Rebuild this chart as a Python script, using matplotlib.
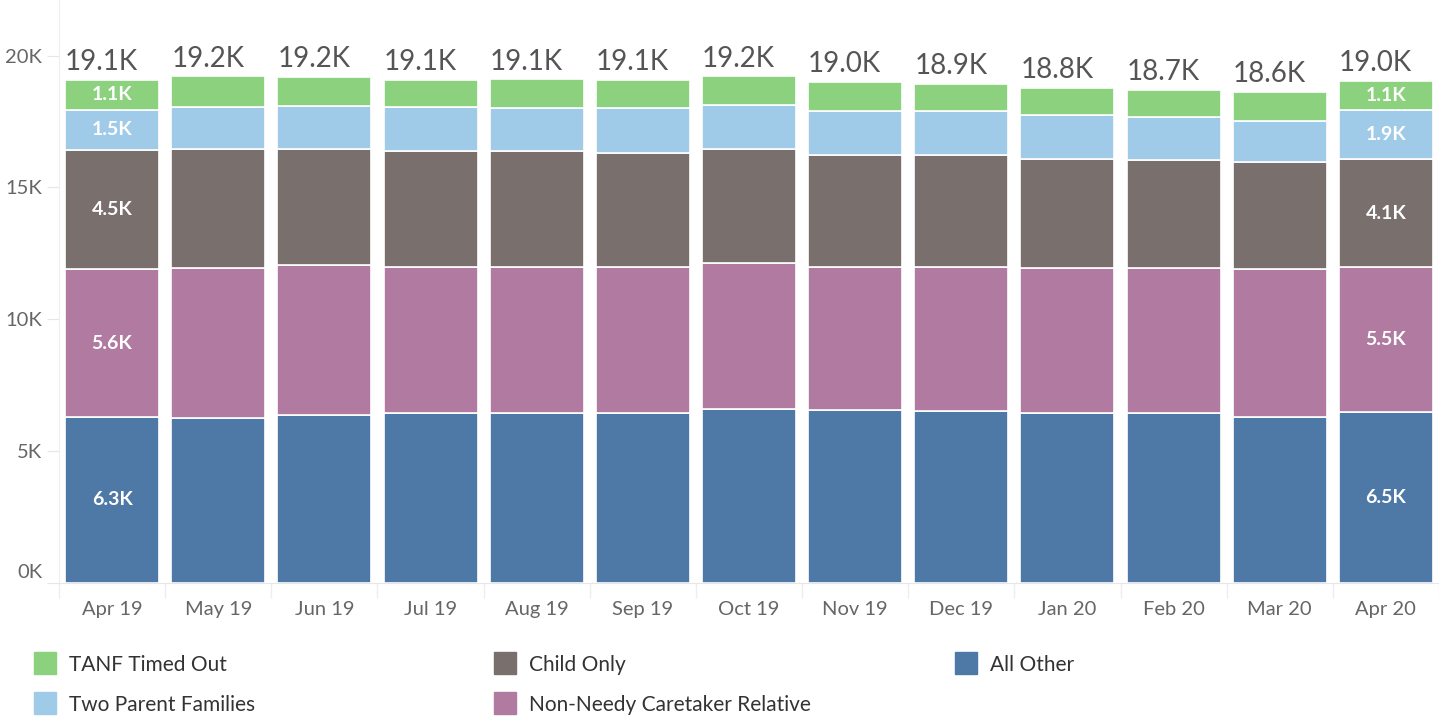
import matplotlib.pyplot as plt
from matplotlib.patches import Rectangle
from matplotlib import transforms
import numpy as np

plt.rcParams['font.family'] = ['Lato', 'DejaVu Sans']

"""
    Data (caseload counts by month)
"""
months = ["Apr 19", "May 19", "Jun 19", "Jul 19", "Aug 19", "Sep 19", "Oct 19",
          "Nov 19", "Dec 19", "Jan 20", "Feb 20", "Mar 20", "Apr 20"]

all_other = [6280, 6250, 6360, 6430, 6430, 6430, 6590, 6550, 6510, 6430, 6440, 6280, 6460]
non_needy = [5620, 5690, 5690, 5550, 5550, 5550, 5540, 5430, 5470, 5510, 5500, 5620, 5520]
child_only = [4520, 4520, 4410, 4400, 4400, 4320, 4330, 4250, 4250, 4140, 4100, 4060, 4090]
two_parent = [1530, 1580, 1650, 1660, 1620, 1700, 1690, 1660, 1660, 1660, 1630, 1560, 1890]
tanf_timed_out = [1130, 1180, 1080, 1050, 1110, 1080, 1070, 1120, 1040, 1040, 1030, 1100, 1080]

series = [
    ("All Other", all_other, "#4E79A7"),
    ("Non-Needy Caretaker Relative", non_needy, "#B07AA1"),
    ("Child Only", child_only, "#79706E"),
    ("Two Parent Families", two_parent, "#A0CBE8"),
    ("TANF Timed Out", tanf_timed_out, "#8CD17D"),
]


def fmt_k(v):
    return f"{v / 1000:.1f}K"


"""
    Figure
"""
fig = plt.figure(figsize=(14.39, 7.19), dpi=100)
ax = fig.add_axes([59 / 1439, 136.5 / 719, 1 - 59 / 1439, 1 - 136.5 / 719])

x = np.arange(len(months))
bottom = np.zeros(len(months))
for name, vals, color in series:
    vals = np.array(vals, dtype=float)
    ax.bar(x, vals, bottom=bottom, width=0.886, color=color,
           edgecolor="white", linewidth=1.2)
    # labels on first and last bar only
    for i in (0, len(months) - 1):
        ax.text(x[i], bottom[i] + vals[i] / 2, fmt_k(vals[i]), ha="center", va="center",
                color="white", fontsize=14, fontweight="bold")
    bottom += vals

totals = bottom
for i, t in enumerate(totals):
    ax.annotate(fmt_k(t), (x[i], t), xytext=(-7.5, 7), textcoords="offset points",
                ha="center", va="baseline", fontsize=20, color="#555555")

ax.set_xlim(-0.5, len(months) - 0.5)
ax.set_ylim(0, 22120)

ax.set_yticks([0, 5000, 10000, 15000, 20000])
ax.set_yticklabels(["0K", "5K", "10K", "15K", "20K"])
ax.tick_params(axis="y", length=9, color="#e6e6e6", labelsize=14.5, labelcolor="#666666", pad=3)
# bottom label sits a bit higher, like the original
lbl0 = ax.get_yticklabels()[0]
lbl0.set_transform(lbl0.get_transform() + transforms.ScaledTranslation(0, 12 / 100, fig.dpi_scale_trans))

ax.set_xticks(x)
ax.set_xticklabels(months)
ax.tick_params(axis="x", which="major", length=0, labelsize=14.5, labelcolor="#666666", pad=13)
ax.set_xticks(np.arange(-0.5, len(months)), minor=True)
ax.tick_params(axis="x", which="minor", length=11, color="#eeeeee", width=1)

for side in ["top", "right"]:
    ax.spines[side].set_visible(False)
ax.spines["left"].set_color("#eeeeee")
ax.spines["bottom"].set_color("#e6e6e6")

"""
    Legend
"""
legend_items = [
    ("TANF Timed Out", "#8CD17D", 34, 663),
    ("Child Only", "#79706E", 494, 663),
    ("All Other", "#4E79A7", 955, 663),
    ("Two Parent Families", "#A0CBE8", 34, 703),
    ("Non-Needy Caretaker Relative", "#B07AA1", 494, 703),
]
W, H = 1439, 719
for label, color, px, py in legend_items:
    fig.add_artist(Rectangle((px / W, (H - py - 11) / H), 22 / W, 22 / H,
                             transform=fig.transFigure, color=color))
    fig.text((px + 35) / W, (H - py) / H, label, ha="left", va="center_baseline",
             fontsize=15, color="#333333")

fig.savefig("out.png", dpi=100)
